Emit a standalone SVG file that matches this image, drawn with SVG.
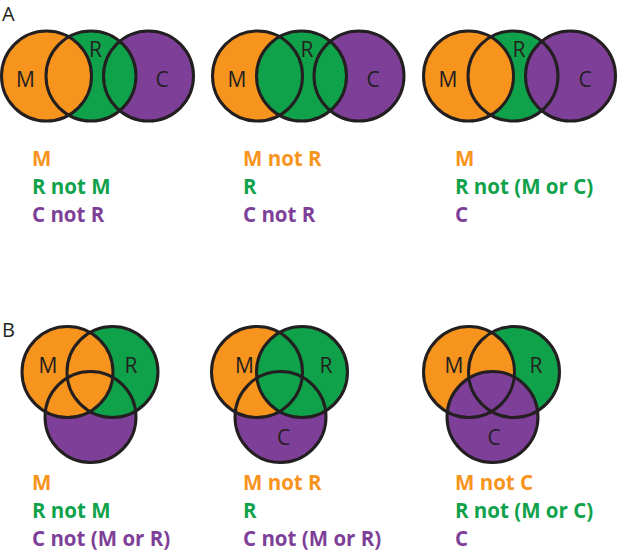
<svg xmlns="http://www.w3.org/2000/svg" width="617" height="552" viewBox="0 0 617 552">
<style>
.o{fill:#F7941D}
.g{fill:#0FA24B}
.p{fill:#7E3F98}
.ring{fill:none;stroke:#231F20;stroke-width:3}
.lbl{font-family:"Open Sans","Liberation Sans",sans-serif;font-size:21px;fill:#231F20;text-anchor:middle}
.pl{font-family:"Open Sans","Liberation Sans",sans-serif;font-size:20px;fill:#231F20}
.t{font-family:"Open Sans","Liberation Sans",sans-serif;font-size:20.5px;font-weight:bold}
.to{fill:#F7941D}.tg{fill:#0FA24B}.tp{fill:#7E3F98}
</style>
<rect width="617" height="552" fill="#fff"/>
<text class="pl" x="2" y="20.5">A</text>
<text class="pl" x="2" y="337">B</text>

<g id="A1">
<circle class="p" cx="148.5" cy="76" r="45"/>
<circle class="g" cx="91" cy="76" r="45"/>
<circle class="o" cx="46.5" cy="76" r="45"/>
<circle class="ring" cx="148.5" cy="76" r="45"/>
<circle class="ring" cx="91" cy="76" r="45"/>
<circle class="ring" cx="46.5" cy="76" r="45"/>
<text class="lbl" x="25.5" y="86.5">M</text>
<text class="lbl" x="95.5" y="56.5">R</text>
<text class="lbl" x="162" y="86.5">C</text>
</g>

<g id="A2">
<circle class="o" cx="257.5" cy="76" r="45"/>
<circle class="p" cx="359" cy="76" r="45"/>
<circle class="g" cx="301.5" cy="76" r="45"/>
<circle class="ring" cx="257.5" cy="76" r="45"/>
<circle class="ring" cx="359" cy="76" r="45"/>
<circle class="ring" cx="301.5" cy="76" r="45"/>
<text class="lbl" x="237" y="86.5">M</text>
<text class="lbl" x="307" y="56.5">R</text>
<text class="lbl" x="373" y="86.5">C</text>
</g>

<g id="A3">
<circle class="g" cx="513" cy="76" r="45"/>
<circle class="o" cx="468.5" cy="76" r="45"/>
<circle class="p" cx="570.5" cy="76" r="45"/>
<circle class="ring" cx="513" cy="76" r="45"/>
<circle class="ring" cx="468.5" cy="76" r="45"/>
<circle class="ring" cx="570.5" cy="76" r="45"/>
<text class="lbl" x="448" y="86.5">M</text>
<text class="lbl" x="519" y="56.5">R</text>
<text class="lbl" x="585" y="86.5">C</text>
</g>

<g id="A1-text" class="t">
<text class="to" x="32" y="166">M</text>
<text class="tg" x="32" y="194">R not M</text>
<text class="tp" x="32" y="222">C not R</text>
</g>
<g id="A2-text" class="t">
<text class="to" x="243" y="166">M not R</text>
<text class="tg" x="243" y="194">R</text>
<text class="tp" x="243" y="222">C not R</text>
</g>
<g id="A3-text" class="t">
<text class="to" x="455" y="166">M</text>
<text class="tg" x="455" y="194">R not (M or C)</text>
<text class="tp" x="455" y="222">C</text>
</g>

<g id="B1">
<circle class="p" cx="90.5" cy="417" r="45.5"/>
<circle class="g" cx="112.5" cy="372" r="45.5"/>
<circle class="o" cx="67.5" cy="372" r="45.5"/>
<circle class="ring" cx="90.5" cy="417" r="45.5"/>
<circle class="ring" cx="112.5" cy="372" r="45.5"/>
<circle class="ring" cx="67.5" cy="372" r="45.5"/>
<text class="lbl" x="48" y="372.5">M</text>
<text class="lbl" x="131" y="372.5">R</text>
</g>

<g id="B2">
<circle class="p" cx="280.5" cy="417" r="45.5"/>
<circle class="o" cx="257" cy="372" r="45.5"/>
<circle class="g" cx="302" cy="372" r="45.5"/>
<circle class="ring" cx="280.5" cy="417" r="45.5"/>
<circle class="ring" cx="257" cy="372" r="45.5"/>
<circle class="ring" cx="302" cy="372" r="45.5"/>
<text class="lbl" x="244.5" y="372.5">M</text>
<text class="lbl" x="326" y="372.5">R</text>
<text class="lbl" x="283.5" y="444.5">C</text>
</g>

<g id="B3">
<circle class="g" cx="514" cy="372" r="45.5"/>
<circle class="o" cx="469" cy="372" r="45.5"/>
<circle class="p" cx="492.5" cy="417" r="45.5"/>
<circle class="ring" cx="514" cy="372" r="45.5"/>
<circle class="ring" cx="469" cy="372" r="45.5"/>
<circle class="ring" cx="492.5" cy="417" r="45.5"/>
<text class="lbl" x="454" y="372.5">M</text>
<text class="lbl" x="536" y="372.5">R</text>
<text class="lbl" x="494" y="444.5">C</text>
</g>

<g id="B1-text" class="t">
<text class="to" x="32" y="490">M</text>
<text class="tg" x="32" y="518">R not M</text>
<text class="tp" x="32" y="546">C not (M or R)</text>
</g>
<g id="B2-text" class="t">
<text class="to" x="243" y="490">M not R</text>
<text class="tg" x="243" y="518">R</text>
<text class="tp" x="243" y="546">C not (M or R)</text>
</g>
<g id="B3-text" class="t">
<text class="to" x="455" y="490">M not C</text>
<text class="tg" x="455" y="518">R not (M or C)</text>
<text class="tp" x="455" y="546">C</text>
</g>
</svg>
